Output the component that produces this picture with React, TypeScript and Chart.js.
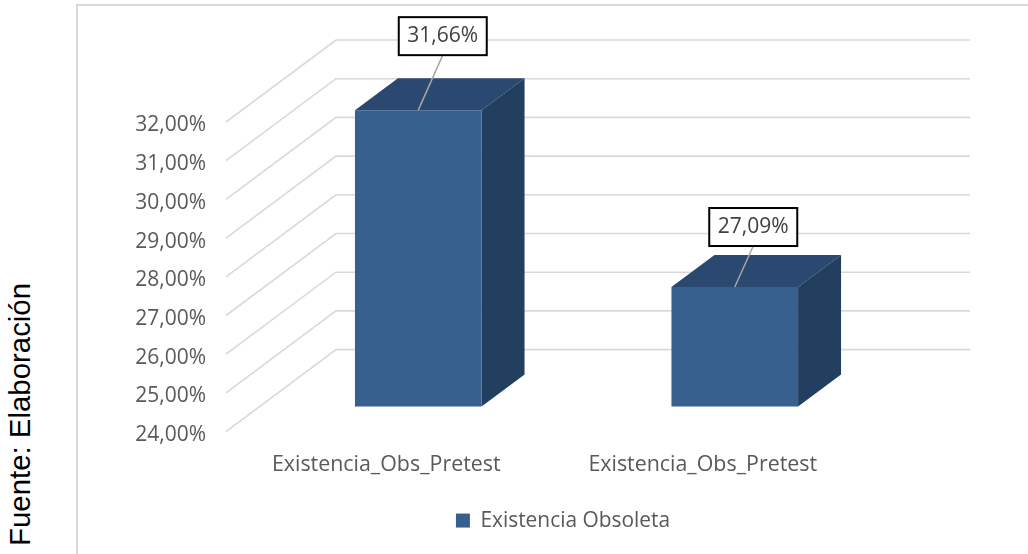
import React, { useEffect, useRef } from "react";
import { Chart, registerables } from "chart.js";

Chart.register(...registerables);

const categories = ["Existencia_Obs_Pretest", "Existencia_Obs_Pretest"];
const seriesName = "Existencia Obsoleta";
const obsoleteStock = [31.66, 27.09];
const axisMin = 24;
const axisMax = 32;
const axisStep = 1;

const FONT = "'Open Sans', sans-serif";
const TEXT_SIZE = 21;
const FRONT = "#37608f";
const TOP = "#2b4871";
const SIDE = "#223f5f";
const GRID = "#d9d9d9";

const percent = (v: number) => v.toFixed(2).replace(".", ",") + "%";

// Oblique projection of the 3D walls, relative to the plot rectangle.
const wall = { frontDx: -34, frontDy: 25, backDx: 76, backDy: -57, rightDx: 77 };
const barDepth = { dx: 43, dy: -32 };
// Callout boxes, relative to the top-centre of each bar.
const callouts = [
  { dx: 24.5, bottom: -55 },
  { dx: 18.5, bottom: -41 },
];
const CALLOUT_W = 88;
const CALLOUT_H = 38;

const projection = {
  id: "projection",
  beforeDatasetsDraw(chart: any) {
    const { ctx, chartArea, scales } = chart;
    const y = scales.y;
    ctx.save();
    ctx.strokeStyle = GRID;
    ctx.lineWidth = 1.6;
    for (const tick of y.ticks) {
      const py = y.getPixelForValue(tick.value);
      ctx.beginPath();
      ctx.moveTo(chartArea.left + wall.frontDx, py + wall.frontDy);
      ctx.lineTo(chartArea.left + wall.backDx, py + wall.backDy);
      ctx.lineTo(chartArea.right + wall.rightDx, py + wall.backDy);
      ctx.stroke();
    }
    const floor = y.getPixelForValue(axisMin);
    for (const bar of chart.getDatasetMeta(0).data) {
      const l = bar.x - bar.width / 2;
      const r = bar.x + bar.width / 2;
      ctx.fillStyle = TOP;
      ctx.beginPath();
      ctx.moveTo(l, bar.y);
      ctx.lineTo(l + barDepth.dx, bar.y + barDepth.dy);
      ctx.lineTo(r + barDepth.dx, bar.y + barDepth.dy);
      ctx.lineTo(r, bar.y);
      ctx.closePath();
      ctx.fill();
      ctx.fillStyle = SIDE;
      ctx.beginPath();
      ctx.moveTo(r, bar.y);
      ctx.lineTo(r + barDepth.dx, bar.y + barDepth.dy);
      ctx.lineTo(r + barDepth.dx, floor + barDepth.dy);
      ctx.lineTo(r, floor);
      ctx.closePath();
      ctx.fill();
    }
    ctx.restore();
  },
  afterDatasetsDraw(chart: any) {
    const { ctx } = chart;
    ctx.save();
    chart.getDatasetMeta(0).data.forEach((bar: any, i: number) => {
      const c = callouts[i];
      const cx = bar.x + c.dx;
      const bottom = bar.y + c.bottom;
      ctx.strokeStyle = "#a6a6a6";
      ctx.lineWidth = 1.5;
      ctx.beginPath();
      ctx.moveTo(cx, bottom);
      ctx.lineTo(bar.x, bar.y);
      ctx.stroke();
      ctx.fillStyle = "#ffffff";
      ctx.strokeStyle = "#000000";
      ctx.lineWidth = 2;
      ctx.fillRect(cx - CALLOUT_W / 2, bottom - CALLOUT_H, CALLOUT_W, CALLOUT_H);
      ctx.strokeRect(cx - CALLOUT_W / 2, bottom - CALLOUT_H, CALLOUT_W, CALLOUT_H);
      ctx.fillStyle = "#404040";
      ctx.font = `${TEXT_SIZE}px ${FONT}`;
      ctx.textAlign = "center";
      ctx.textBaseline = "middle";
      ctx.fillText(percent(obsoleteStock[i]), cx, bottom - CALLOUT_H / 2);
    });
    ctx.restore();
  },
};

export default function App() {
  const canvasRef = useRef<HTMLCanvasElement>(null);

  useEffect(() => {
    const chart = new Chart(canvasRef.current as HTMLCanvasElement, {
      type: "bar",
      data: {
        labels: categories,
        datasets: [
          {
            label: seriesName,
            data: obsoleteStock,
            backgroundColor: FRONT,
            borderWidth: 0,
            barPercentage: 0.8,
            categoryPercentage: 0.5,
          },
        ],
      },
      options: {
        animation: false,
        responsive: false,
        events: [],
        layout: {
          autoPadding: false,
          padding: { left: 40, right: 40, top: 97, bottom: 13 },
        },
        plugins: {
          tooltip: { enabled: false },
          legend: {
            position: "bottom",
            labels: {
              boxWidth: 14,
              boxHeight: 14,
              color: "#595959",
              font: { family: FONT, size: 20.9 },
            },
          },
        },
        scales: {
          x: {
            grid: { display: false },
            border: { display: false },
            afterFit(scale: any) {
              scale.height = 93.5;
            },
            ticks: {
              color: "#595959",
              font: { family: FONT, size: 21.4 },
              padding: 37,
              labelOffset: -32,
              autoSkip: false,
              maxRotation: 0,
            },
          },
          y: {
            min: axisMin,
            max: axisMax,
            grid: { display: false },
            border: { display: false },
            afterFit(scale: any) {
              scale.width = 144;
            },
            ticks: {
              stepSize: axisStep,
              color: "#595959",
              font: { family: FONT, size: TEXT_SIZE },
              padding: 46,
              labelOffset: 28.5,
              callback: (v: any) => percent(Number(v)),
            },
          },
          // Empty right-hand axis: it reserves the room taken by the receding wall.
          wallSpace: {
            position: "right",
            grid: { display: false },
            border: { display: false },
            ticks: { display: false },
            afterFit(scale: any) {
              scale.width = 117;
            },
          },
        },
      },
      plugins: [projection],
    } as any);
    return () => chart.destroy();
  }, []);

  return (
    <div style={{ position: "fixed", left: 0, top: 0, width: 1028, height: 554, overflow: "hidden", background: "#fff" }}>
      <div
        style={{
          position: "absolute",
          left: 76,
          top: 4,
          width: 1000,
          height: 600,
          borderLeft: `2px solid ${GRID}`,
          borderTop: `2px solid ${GRID}`,
        }}
      />
      <canvas ref={canvasRef} width={974} height={554} style={{ position: "absolute", left: 76, top: 0 }} />
      <div
        style={{
          position: "absolute",
          left: 20,
          top: 529,
          lineHeight: "34px",
          fontFamily: "'Liberation Sans', sans-serif",
          fontSize: 29.4,
          color: "#000",
          whiteSpace: "nowrap",
          transform: "rotate(-90deg)",
          transformOrigin: "left center",
        }}
      >
        Fuente: Elaboración
      </div>
    </div>
  );
}
